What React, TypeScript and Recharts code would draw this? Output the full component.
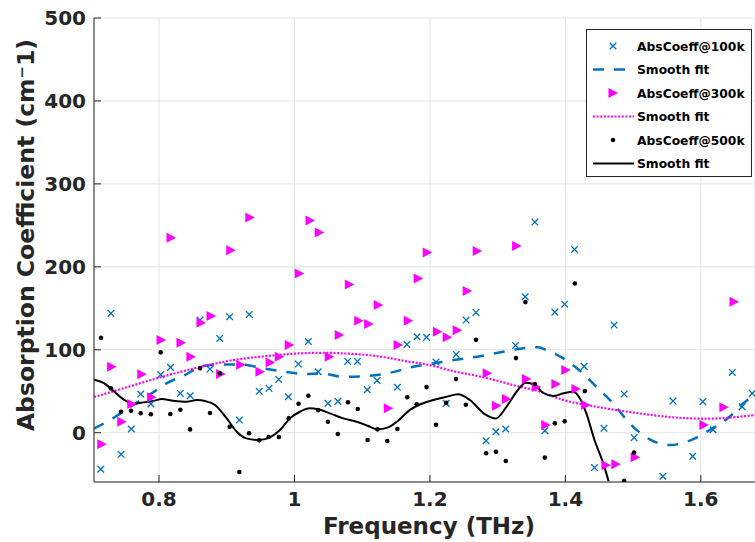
import React from 'react';
import { ComposedChart, Scatter, Line, XAxis, YAxis, CartesianGrid } from 'recharts';

const xTicks = [0.8, 1, 1.2, 1.4, 1.6];
const yTicks = [0, 100, 200, 300, 400, 500];

// [frequency THz, absorption cm^-1]
const abs100: [number, number][] = [
  [0.714, -44], [0.729, 144], [0.744, -26], [0.759, 4.5], [0.773, 46.6], [0.788, 34.6],
  [0.8025, 70], [0.817, 78.8], [0.8315, 47.4], [0.846, 44.6], [0.8605, 135.8], [0.8753, 76.7],
  [0.8896, 113.7], [0.9043, 139.8], [0.9186, 15.3], [0.9333, 142.6], [0.948, 49.9], [0.9624, 53.5],
  [0.9767, 64.3], [0.991, 43.4], [1.0057, 82.8], [1.0204, 110], [1.035, 73.5], [1.0494, 35.4],
  [1.0642, 37.8], [1.0785, 86], [1.093, 86], [1.1075, 51.8], [1.122, 63], [1.152, 54.7],
  [1.166, 106.5], [1.181, 115.7], [1.195, 115], [1.209, 85.2], [1.224, 35.4], [1.2388, 94.4],
  [1.2535, 135.8], [1.268, 145], [1.283, -9.6], [1.2975, 1.2], [1.312, 4.5], [1.3265, 105.3],
  [1.3407, 163.9], [1.355, 254], [1.3697, 2.4], [1.3845, 145.4], [1.399, 155], [1.4135, 221],
  [1.4278, 80], [1.443, -42], [1.457, 5.3], [1.472, 129.8], [1.4868, 46.6], [1.5015, -6],
  [1.544, -52.5], [1.559, 38.2], [1.588, -28.5], [1.603, 37.4], [1.618, 3.6], [1.6465, 72.7],
  [1.661, 31.3], [1.676, 47.4],
];

const abs300: [number, number][] = [
  [0.7154, -14], [0.73, 79.5], [0.745, 13.3], [0.7597, 34.6], [0.7745, 70.4], [0.789, 42.7],
  [0.803, 111.7], [0.8177, 235], [0.8325, 108.4], [0.847, 91.6], [0.862, 132.5], [0.8768, 140.6],
  [0.891, 70.7], [0.9058, 220], [0.9205, 82], [0.934, 259.5], [0.949, 73.5], [0.964, 84.8],
  [0.9776, 91.6], [0.9923, 105.7], [1.007, 192], [1.0229, 256], [1.0366, 241.4], [1.0514, 91.6],
  [1.066, 117.7], [1.081, 178.8], [1.0948, 135], [1.1095, 131], [1.1237, 153.9], [1.1385, 29.4],
  [1.153, 105.7], [1.168, 135], [1.1827, 186], [1.196, 217.3], [1.211, 121.7], [1.2255, 115],
  [1.2403, 123.7], [1.255, 171], [1.2698, 219], [1.2845, 71.6], [1.2983, 32.5], [1.313, 40.6],
  [1.328, 225], [1.3425, 64.7], [1.357, 55], [1.371, 9.3], [1.386, 58.7], [1.4007, 75.5],
  [1.4155, 52.7], [1.43, 33.4], [1.4598, -39.3], [1.4745, -38], [1.503, -29.6], [1.6045, 9.3],
  [1.634, 30.6], [1.649, 157.8],
];

const abs500: [number, number][] = [
  [0.7144, 114.5], [0.729, 53.5], [0.744, 25.3], [0.7587, 26.5], [0.773, 23.4], [0.788, 22.2],
  [0.8025, 96.9], [0.8167, 22.5], [0.8315, 27.7], [0.8458, 4], [0.8605, 77.6], [0.8753, 23.7],
  [0.89, 71.6], [0.9043, 7.2], [0.9186, -47.3], [0.933, -0.7], [0.948, -9.2], [0.962, -5.2],
  [0.977, -5.2], [0.9915, 17.3], [1.006, 35], [1.0205, 44.6], [1.035, 27.3], [1.0494, 13.3],
  [1.064, -1.6], [1.079, 36.6], [1.0935, 28.6], [1.108, -8.8], [1.1225, 4.1], [1.137, -10],
  [1.152, 4.5], [1.1665, 42.7], [1.1805, 34.2], [1.195, 55], [1.209, 9.6], [1.224, 36.1],
  [1.2385, 64.7], [1.253, 33.7], [1.268, 112], [1.283, -24.8], [1.2975, -22.9], [1.312, -34.1],
  [1.327, 90], [1.341, 157.5], [1.355, 58.7], [1.3697, -30], [1.3845, 11.3], [1.399, 13.7],
  [1.414, 180], [1.4288, 50.2], [1.4868, -58], [1.5015, -24],
];

const fit100: [number, number][] = [
  [0.704, 5], [0.735, 19], [0.76, 32.5], [0.789, 47.5], [0.811, 59.5], [0.838, 69.5],
  [0.865, 80.4], [0.895, 82.4], [0.924, 82], [0.954, 77.6], [0.986, 73.5], [1.0155, 70.7],
  [1.038, 71.6], [1.072, 67.5], [1.1065, 68.3], [1.141, 72.3], [1.1755, 79.5], [1.2, 82.8],
  [1.2345, 87.6], [1.269, 91.6], [1.3085, 97.6], [1.3425, 102.4], [1.36, 103], [1.372, 99.6],
  [1.397, 89.6], [1.4215, 74.7], [1.446, 55.4], [1.4705, 35.4], [1.495, 11.3], [1.5245, -8],
  [1.554, -14.8], [1.5838, -9.6], [1.613, 3.3], [1.6425, 19.3], [1.6625, 35.4], [1.68, 45.4],
];

const fit300: [number, number][] = [
  [0.704, 43], [0.747, 53.5], [0.7965, 65.5], [0.868, 80.7], [0.9097, 87.6], [0.959, 92.4],
  [1.008, 95.7], [1.045, 96.4], [1.072, 95.7], [1.1213, 92.4], [1.17, 85.5], [1.1926, 82.8],
  [1.2345, 74.3], [1.2837, 66], [1.3328, 55.4], [1.355, 51.4], [1.397, 39.4], [1.446, 31.3],
  [1.517, 22.5], [1.559, 18.6], [1.608, 16.9], [1.68, 21.3],
];

const fit500: [number, number][] = [
  [0.704, 64], [0.718, 60.2], [0.7325, 50.6], [0.747, 40.6], [0.762, 34.6], [0.777, 36.6],
  [0.7915, 38.2], [0.804, 40.6], [0.821, 38.6], [0.841, 37.4], [0.8557, 39.4], [0.868, 38.2],
  [0.8827, 33.4], [0.9, 17.3], [0.9147, 1.2], [0.929, -6.8], [0.9466, -8.8], [0.9638, -5.5],
  [0.9786, 3.3], [0.9933, 17.3], [1.008, 25.3], [1.0229, 29.4], [1.035, 28.2], [1.0524, 23.4],
  [1.072, 17.3], [1.0918, 13.3], [1.109, 8.1], [1.1225, 4.1], [1.1385, 6.5], [1.153, 14.5],
  [1.17, 27.3], [1.185, 34], [1.205, 39.4], [1.2245, 43.4], [1.2418, 46.3], [1.259, 39.4],
  [1.2815, 22.2], [1.2975, 17.3], [1.313, 31.3], [1.328, 49.4], [1.3417, 60.2], [1.355, 57.5],
  [1.367, 48.2], [1.382, 44.2], [1.397, 47.5], [1.4115, 49.4], [1.4215, 41.4], [1.431, 23.4],
  [1.443, -8.8], [1.456, -37], [1.464, -59],
];

const rows = (pts: [number, number][]) => pts.map(([f, v]) => ({ f, v }));

const BLUE = '#0072BD';
const MAGENTA = '#FF00FF';
const INK = '#262626';
const FONT = '"DejaVu Sans", sans-serif';

const Cross = ({ cx, cy }: any) => (
  <g stroke={BLUE} strokeWidth={1.3}>
    <line x1={cx - 3.3} y1={cy - 3.3} x2={cx + 3.3} y2={cy + 3.3} />
    <line x1={cx - 3.3} y1={cy + 3.3} x2={cx + 3.3} y2={cy - 3.3} />
  </g>
);

const Tri = ({ cx, cy }: any) => (
  <polygon points={`${cx - 4.5},${cy - 5} ${cx + 5},${cy} ${cx - 4.5},${cy + 5}`} fill={MAGENTA} />
);

const Dot = ({ cx, cy }: any) => <circle cx={cx} cy={cy} r={2.3} fill="#000" />;

const YTick = ({ x, y, payload }: any) => (
  <g>
    <line x1={x} y1={y} x2={x + 7} y2={y} stroke={INK} />
    <text x={x - 8} y={y + 7} textAnchor="end" fontFamily={FONT} fontWeight="bold" fontSize={20} fill={INK}>
      {payload.value}
    </text>
  </g>
);

const XTick = ({ x, y, payload }: any) => (
  <g>
    <line x1={x} y1={y} x2={x} y2={y - 7} stroke={INK} />
    <text x={x} y={y + 24} textAnchor="middle" fontFamily={FONT} fontWeight="bold" fontSize={20} fill={INK}>
      {payload.value}
    </text>
  </g>
);

const legendItems = [
  { label: 'AbsCoeff@100k', kind: 'cross' },
  { label: 'Smooth fit', kind: 'dash' },
  { label: 'AbsCoeff@300k', kind: 'tri' },
  { label: 'Smooth fit', kind: 'dot' },
  { label: 'AbsCoeff@500k', kind: 'circle' },
  { label: 'Smooth fit', kind: 'solid' },
];

function LegendBox() {
  return (
    <div
      style={{
        position: 'absolute', left: 586, top: 29, width: 164, height: 146,
        border: `1px solid ${INK}`, background: '#fff',
      }}
    >
      <svg width={164} height={146}>
        {legendItems.map((it, i) => {
          const cy = 16 + i * 23.5;
          let sym: React.ReactNode = null;
          if (it.kind === 'cross') sym = <Cross cx={26} cy={cy} />;
          if (it.kind === 'tri') sym = <Tri cx={26} cy={cy} />;
          if (it.kind === 'circle') sym = <Dot cx={26} cy={cy} />;
          if (it.kind === 'dash') sym = <line x1={6} x2={47} y1={cy} y2={cy} stroke={BLUE} strokeWidth={2.5} strokeDasharray="11 10" />;
          if (it.kind === 'dot') sym = <line x1={6} x2={47} y1={cy} y2={cy} stroke={MAGENTA} strokeWidth={2.2} strokeDasharray="2 1.6" />;
          if (it.kind === 'solid') sym = <line x1={6} x2={47} y1={cy} y2={cy} stroke="#000" strokeWidth={2} />;
          return (
            <g key={`lg-${i}`}>
              {sym}
              <text x={50} y={cy + 4.5} fontFamily={FONT} fontWeight="bold" fontSize={12.3} fill="#000">
                {it.label}
              </text>
            </g>
          );
        })}
      </svg>
    </div>
  );
}

export default function App() {
  return (
    <div style={{ position: 'relative', width: 755, height: 542, overflow: 'hidden', background: '#fff' }}>
      <style>{'body{margin:0}'}</style>
      <ComposedChart width={755} height={542} margin={{ top: 18, right: 0, left: 0, bottom: 0 }}>
        <CartesianGrid stroke="#e3e3e3" />
        <XAxis
          type="number"
          dataKey="f"
          domain={[0.704, 1.68]}
          allowDataOverflow
          ticks={xTicks}
          tick={<XTick />}
          tickSize={0}
          tickMargin={0}
          tickLine={false}
          axisLine={{ stroke: '#6a6a6a', strokeWidth: 1.5 }}
          height={60}
          label={{
            content: () => (
              <text x={429} y={534} textAnchor="middle" fontFamily={FONT} fontWeight="bold" fontSize={23} fill={INK}>
                Frequency (THz)
              </text>
            ),
          }}
        />
        <YAxis
          type="number"
          dataKey="v"
          domain={[-59.4, 500]}
          allowDataOverflow
          ticks={yTicks}
          tick={<YTick />}
          tickSize={0}
          tickMargin={0}
          tickLine={false}
          axisLine={{ stroke: INK }}
          width={94}
          label={{
            content: () => (
              <text
                x={34}
                y={235}
                transform="rotate(-90 34 235)"
                textAnchor="middle"
                fontFamily={FONT}
                fontWeight="bold"
                fontSize={23.5}
                fill={INK}
              >
                Absorption Coefficient (cm⁻1)
              </text>
            ),
          }}
        />
        <Scatter data={rows(abs100)} dataKey="v" shape={<Cross />} isAnimationActive={false} />
        <Line data={rows(fit100)} dataKey="v" type="monotone" stroke={BLUE} strokeWidth={2.5} strokeDasharray="11 10" dot={false} activeDot={false} isAnimationActive={false} />
        <Scatter data={rows(abs300)} dataKey="v" shape={<Tri />} isAnimationActive={false} />
        <Line data={rows(fit300)} dataKey="v" type="monotone" stroke={MAGENTA} strokeWidth={2.2} strokeDasharray="2 1.6" dot={false} activeDot={false} isAnimationActive={false} />
        <Scatter data={rows(abs500)} dataKey="v" shape={<Dot />} isAnimationActive={false} />
        <Line data={rows(fit500)} dataKey="v" type="monotone" stroke="#000" strokeWidth={2} dot={false} activeDot={false} isAnimationActive={false} />
      </ComposedChart>
      <LegendBox />
    </div>
  );
}
